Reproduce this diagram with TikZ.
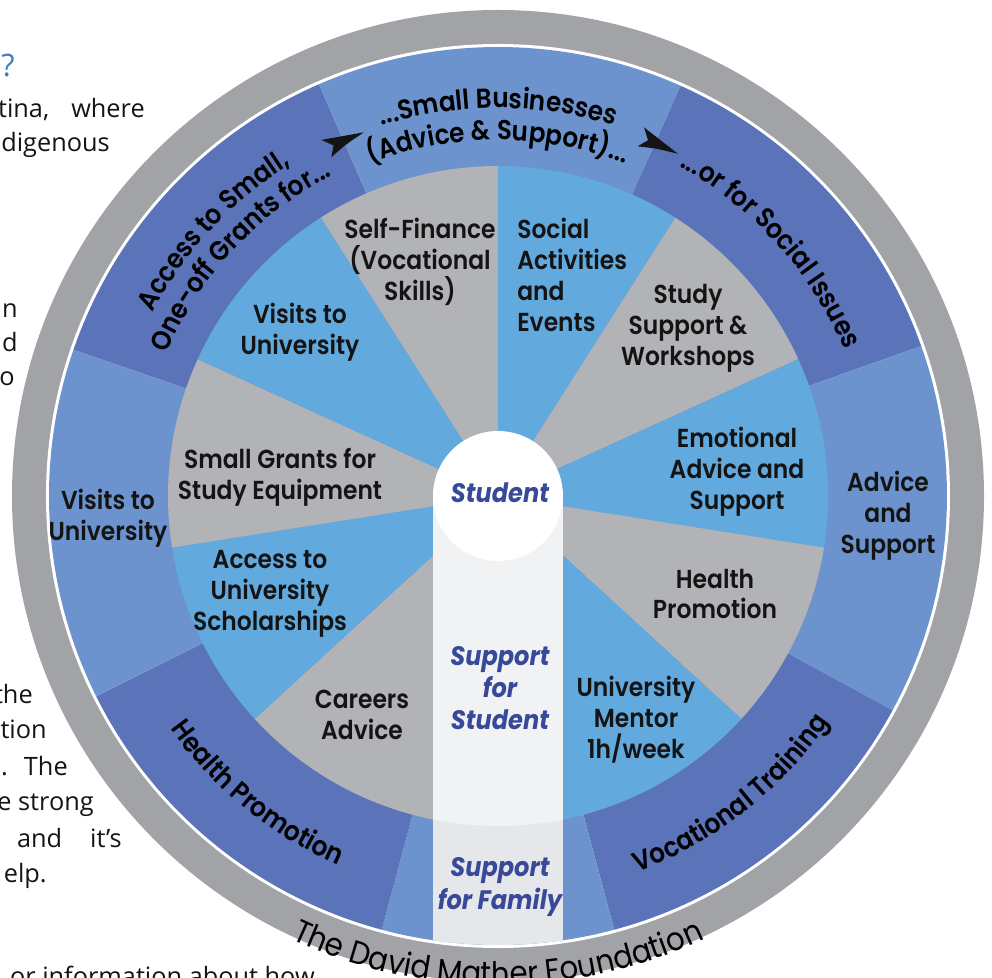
\documentclass[tikz,border=0pt]{standalone}
\usepackage{fontspec}
\setmainfont{Open Sans}
\IfFontExistsTF{Poppins SemiBold}
  {\newfontfamily\wheelfont{Poppins SemiBold}[FakeStretch=0.9]}
  {\newfontfamily\wheelfont{Poppins}[FakeStretch=0.9,FakeBold=1]}
\newfontfamily\foundfont{Poppins}[FakeStretch=0.9]
\newfontfamily\studentfont{Poppins}[FakeStretch=0.9]
\usetikzlibrary{decorations.text}

\definecolor{ringgray}{HTML}{A1A3A6}
\definecolor{ringdarkblue}{HTML}{5B74B9}
\definecolor{ringlightblue}{HTML}{6C93CD}
\definecolor{wedgeskyblue}{HTML}{62A9DE}
\definecolor{wedgegraytone}{HTML}{B1B3B6}
\definecolor{bandtop}{HTML}{F1F2F4}
\definecolor{bandbottom}{HTML}{E6E7EB}
\definecolor{studentblue}{HTML}{38499A}
\definecolor{headblue}{HTML}{3E7CC8}
\definecolor{inktext}{HTML}{141414}

\newcommand{\ringfont}{\wheelfont\fontsize{19.5}{23}\selectfont}
\newcommand{\foundtext}{\foundfont\fontsize{23}{27}\selectfont}
% text set along an arc: start angle, end angle, radius, text
\newcommand{\ringtext}[4]{%
  \path[decorate, decoration={text along path, text align=center,
      text format delimiters={|}{|}, text={#4}}]
    (#1:#3) arc[start angle=#1, end angle=#2, radius=#3];}

\begin{document}
\begin{tikzpicture}[
    x=0.025cm, y=0.025cm,
    wedge label/.style={font=\wheelfont\fontsize{18.5}{22}\selectfont, text=inktext, align=center, inner sep=0pt}, % labels in the wheel
    student label/.style={font=\studentfont\bfseries\itshape\fontsize{19}{23}\selectfont, text=studentblue, align=center, inner sep=0pt},
    page text/.style={font=\fontsize{18}{25}\selectfont, text=inktext, anchor=base east, inner sep=0pt}, % cut-off page text
    ringdark/.style={fill=ringdarkblue},
    ringlight/.style={fill=ringlightblue},
    wedgegray/.style={fill=wedgegraytone},
    wedgeblue/.style={fill=wedgeskyblue},
    dart/.pic={\fill[inktext] (22,0) .. controls (2,5) .. (-20,10) -- (-11,0) -- (-18,-10) .. controls (0,-4) .. (22,0) -- cycle;}
]
    \useasboundingbox (-498,-482) rectangle (494,496);

    % === Centre of the wheel ===
    \coordinate (O) at (0,0);

    % === Rim ===
    \fill[ringgray] (O) circle (486);
    \fill[white] (O) circle (452);

    % === Outer ring segments ===
    \foreach \a/\b/\c in {113.5/161/ringdark, 66/113.5/ringlight, 19.5/66/ringdark,
                          -28.5/19.5/ringlight, -75/-28.5/ringdark, -105/-75/ringlight,
                          206.5/255/ringdark, 161/206.5/ringlight}
        \fill[\c] (O) -- (\a:449) arc[start angle=\a, end angle=\b, radius=449] -- cycle;

    % === Inner wedges ===
    \foreach \a/\b/\c in {90/122.5/wedgegray, 57.5/90/wedgeblue, 24.5/57.5/wedgegray,
                          -9/24.5/wedgeblue, -42.5/-9/wedgegray, -90/-42.5/wedgeblue,
                          222.5/270/wedgegray, 189/222.5/wedgeblue, 155.5/189/wedgegray,
                          122.5/155.5/wedgeblue}
        \fill[\c] (O) -- (\a:330) arc[start angle=\a, end angle=\b, radius=330] -- cycle;

    % === Support band below the student ===
    \begin{scope}
        \clip (O) circle (449);
        \fill[bandbottom] (-65,0) rectangle (65,-449);
        \clip (O) circle (330);
        \fill[bandtop] (-65,0) rectangle (65,-330);
    \end{scope}
    \fill[white] (O) circle (65);

    % === Arrows between the grant segments ===
    \pic[rotate=23.5] at (113.5:387) {dart};
    \pic[rotate=-24.5] at (65.5:386) {dart};

    % === Inner wedge labels ===
    \node[wedge label] (selffin) at (-78,234) {Self-Finance\\(Vocational\\Skills)};
    \node[wedge label, anchor=west, align=left] (social) at (19,221) {Social\\Activities\\and\\Events};
    \node[wedge label] (studysup) at (190,168) {Study\\Support \&\\Workshops};
    \node[wedge label] (emotion) at (239,24) {Emotional\\Advice and\\Support};
    \node[wedge label] (healthin) at (217,-98) {Health\\Promotion};
    \node[wedge label] (mentor) at (138,-224) {University\\Mentor\\1h/week};
    \node[wedge label] (careers) at (-136,-219) {Careers\\Advice};
    \node[wedge label] (scholar) at (-228,-98) {Access to\\University\\Scholarships};
    \node[wedge label] (grants) at (-218,19) {Small Grants for\\Study Equipment};
    \node[wedge label] (visitsin) at (-198,164) {Visits to\\University};

    % === Outer ring labels ===
    \node[wedge label] (visitsout) at (-390,-22) {Visits to\\University};
    \node[wedge label] (adviceout) at (390,-20) {Advice\\and\\Support};
    \ringtext{125}{55}{388}{|\ringfont|...Small Businesses}
    \ringtext{125}{55}{356}{|\ringfont|(Advice {\&} Support)...}
    \ringtext{172}{102}{391}{|\ringfont|Access to Small,}
    \ringtext{174}{100}{361}{|\ringfont|One-off Grants for...}
    \ringtext{82}{2}{376}{|\ringfont|...or for Social Issues}
    \ringtext{199}{263}{402}{|\ringfont|Health Promotion}
    \ringtext{-82}{-22}{401}{|\ringfont|Vocational Training}
    \ringtext{232}{308}{489}{|\foundtext|The David Mather Foundation}

    % === Student and support band ===
    \node[student label] (student) at (2,3) {Student};
    \node[student label] (supstud) at (2,-192) {Support\\for\\Student};
    \node[student label] (supfam) at (2,-391) {Support\\for Family};

    % === Page text cut off at the left ===
    \node[page text, font=\fontsize{22}{26}\selectfont, text=headblue] (qmark) at (-483,419) {?};
    \node[page text] (p1) at (-353,378) {tina,\hspace{0.55cm}where};
    \node[page text] (p2) at (-388,344) {digenous};
    \node[page text] (p3) at (-480,178) {n};
    \node[page text] (p4) at (-480,144) {d};
    \node[page text] (p5) at (-483,110) {o};
    \node[page text] (p6) at (-465,-207) {the};
    \node[page text] (p7) at (-451,-242) {tion};
    \node[page text] (p8) at (-430,-279) {s.\hspace{0.4cm}The};
    \node[page text] (p9) at (-404,-314) {e strong};
    \node[page text] (p10) at (-376,-351) {and\hspace{0.7cm}it's};
    \node[page text] (p11) at (-451,-386) {elp.};
    \node[page text] (p12) at (-183,-489) {or information about how};

\end{tikzpicture}
\end{document}
